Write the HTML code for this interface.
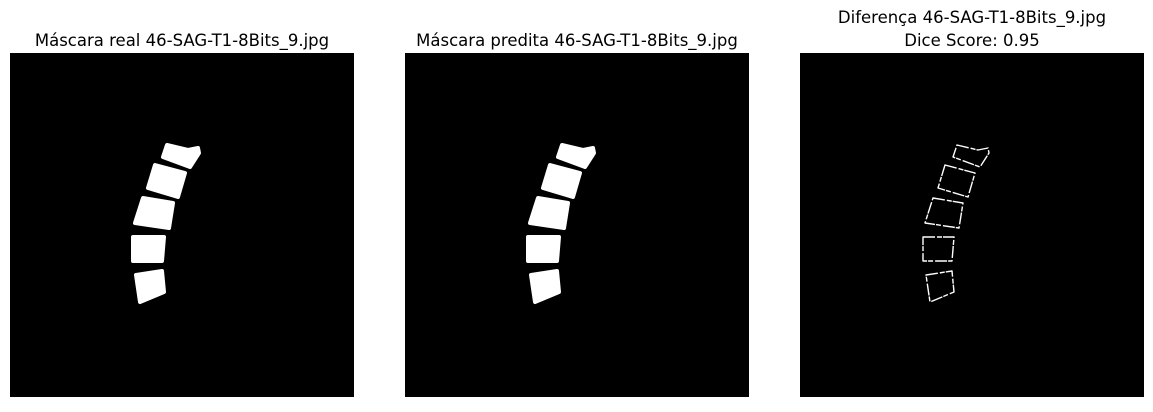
<!DOCTYPE html>
<html><head><meta charset="utf-8"><style>
body{margin:0;background:#fff;width:1153px;height:407px;overflow:hidden}
svg text{font-family:"DejaVu Sans","Liberation Sans",sans-serif;font-size:16.5px;fill:#000}
</style></head><body>
<svg width="1153" height="407">
<text x="182" y="46" text-anchor="middle">Máscara real 46-SAG-T1-8Bits_9.jpg</text>
<text x="577" y="46" text-anchor="middle">Máscara predita 46-SAG-T1-8Bits_9.jpg</text>
<text x="972" y="23" text-anchor="middle">Diferença 46-SAG-T1-8Bits_9.jpg</text>
<text x="972" y="46" text-anchor="middle">Dice Score: 0.95</text>
<g id="p1"></g>
<g id="p2"></g>
<g id="p3"></g>
</svg>
<script>
const verts=[
 [[167,145],[188,150],[198,148],[199,153],[190,167],[163,157]],
 [[155,165],[185,173],[178,197],[148,188]],
 [[143,198],[173,203],[169,228],[135,223]],
 [[133,237],[164,237],[162,261],[133,261]],
 [[136,275],[162,271],[164,292],[140,302]]
];
const NS='http://www.w3.org/2000/svg';
function panel(id,dx,mode){
 const g=document.getElementById(id);
 const r=document.createElementNS(NS,'rect');
 r.setAttribute('x',10+dx);r.setAttribute('y',53);r.setAttribute('width',344);r.setAttribute('height',344);r.setAttribute('fill','#000');
 
 
 g.appendChild(r);
 verts.forEach((v,i)=>{
  const p=document.createElementNS(NS,'polygon');
  p.setAttribute('points',v.map(q=>(q[0]+dx)+','+q[1]).join(' '));
  if(mode==='fill'){p.setAttribute('fill','#fff');p.setAttribute('stroke','#fff');p.setAttribute('stroke-width','4');p.setAttribute('stroke-linejoin','round');}
  else{p.setAttribute('fill','none');p.setAttribute('stroke','#fff');p.setAttribute('stroke-width','1.4');p.setAttribute('stroke-dasharray','12 2 5 1');p.setAttribute('stroke-linejoin','round');}
  
  
  g.appendChild(p);
 });
}
panel('p1',0,'fill');panel('p2',395,'fill');panel('p3',790,'line');
</script>
</body></html>
